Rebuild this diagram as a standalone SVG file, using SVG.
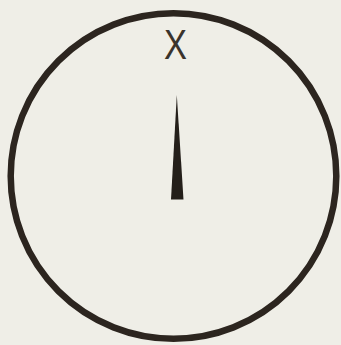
<svg xmlns="http://www.w3.org/2000/svg" width="341" height="345" viewBox="0 0 341 345">
<style>
.dial{fill:none;stroke:#2c251f;stroke-width:6.5}
.lbl{font-family:"Liberation Sans","DejaVu Sans",sans-serif;font-size:42px;font-weight:300;fill:#3a332c}
.needle{fill:#241f1a}
</style>
<rect width="341" height="345" fill="#efeee7"/>
<g id="dial">
<circle class="dial" cx="173.5" cy="176" r="162.8"/>
</g>
<g id="label-x">
<text class="lbl" x="175.5" y="59" text-anchor="middle" transform="translate(175.5 0) scale(0.82 1) translate(-175.5 0)">X</text>
</g>
<g id="needle">
<polygon class="needle" points="176.8,95 183.5,199.5 171,199.5"/>
</g>
<g id="connectors"></g>
</svg>
